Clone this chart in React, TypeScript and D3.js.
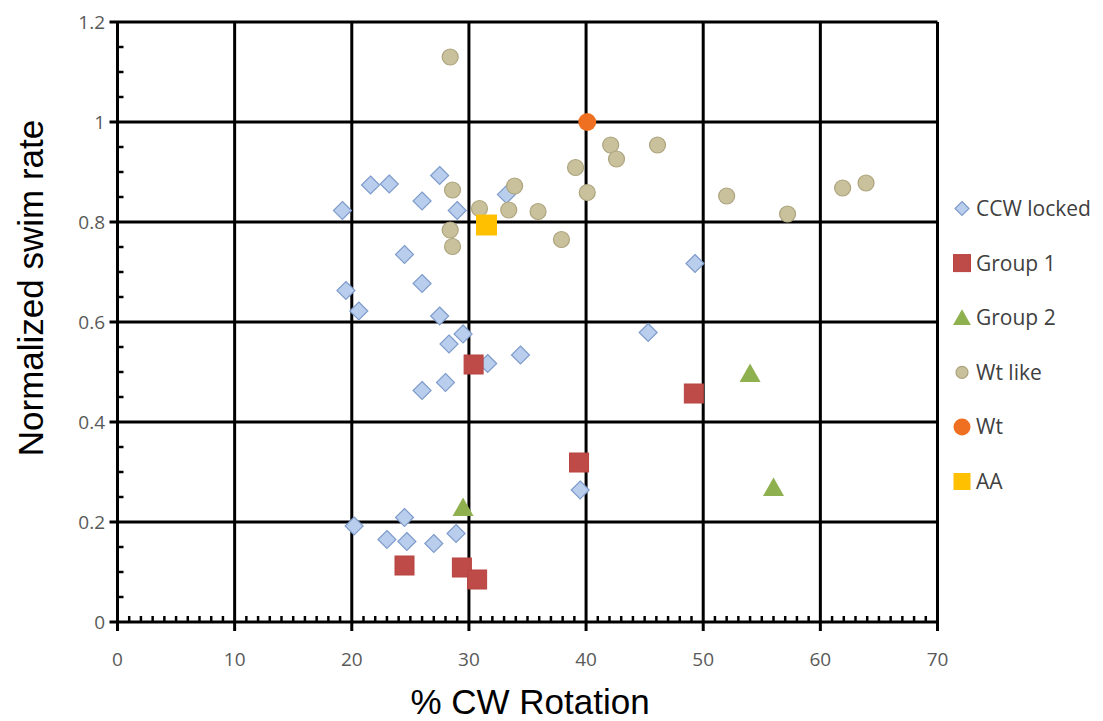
import React from "react";
import * as d3 from "d3";

const xTicks = [0, 10, 20, 30, 40, 50, 60, 70];
const yTicks = [0, 0.2, 0.4, 0.6, 0.8, 1, 1.2];
const yTickLabels = ["0", "0.2", "0.4", "0.6", "0.8", "1", "1.2"];

const ccwLocked: [number, number][] = [
  [19.2, 0.823], [21.6, 0.874], [23.2, 0.876], [27.5, 0.893], [26.0, 0.842],
  [29.0, 0.823], [33.2, 0.855], [24.5, 0.735], [49.3, 0.717], [26.0, 0.677],
  [19.5, 0.663], [20.6, 0.622], [27.5, 0.612], [28.3, 0.556], [29.5, 0.576],
  [31.6, 0.517], [34.4, 0.534], [26.0, 0.463], [28.0, 0.479], [45.3, 0.579],
  [20.2, 0.192], [24.5, 0.209], [23.0, 0.165], [24.7, 0.161], [27.0, 0.157],
  [28.9, 0.177], [39.5, 0.264],
];
const group1: [number, number][] = [
  [30.4, 0.515], [39.4, 0.319], [49.2, 0.457], [24.5, 0.113], [29.4, 0.109], [30.7, 0.085],
];
const group2: [number, number][] = [
  [29.5, 0.229], [54.0, 0.497], [56.0, 0.269],
];
const wtLike: [number, number][] = [
  [28.4, 1.13], [28.6, 0.864], [30.9, 0.827], [33.9, 0.872], [33.4, 0.824],
  [35.9, 0.821], [39.1, 0.909], [40.1, 0.859], [42.1, 0.954], [42.6, 0.926],
  [46.1, 0.954], [28.4, 0.784], [28.6, 0.751], [37.9, 0.765], [52.0, 0.852],
  [61.9, 0.868], [63.9, 0.878], [57.2, 0.816],
];
const wt: [number, number][] = [[40.1, 1.0]];
const aa: [number, number][] = [[31.5, 0.794]];

const legendNames = ["CCW locked", "Group 1", "Group 2", "Wt like", "Wt", "AA"];

type Shape = "diamond" | "square" | "triangle" | "circle";

function Marker({ shape, cx, cy, size, fill, stroke }: { shape: Shape; cx: number; cy: number; size: number; fill: string; stroke?: string }) {
  const h = size / 2;
  if (shape === "diamond") {
    const p = `M${cx},${cy - h} L${cx + h},${cy} L${cx},${cy + h} L${cx - h},${cy} Z`;
    return <path d={p} fill={fill} stroke={stroke} strokeWidth={1.2} />;
  }
  if (shape === "square") {
    return <rect x={cx - h} y={cy - h} width={size} height={size} fill={fill} stroke={stroke || "none"} strokeWidth={1} />;
  }
  if (shape === "triangle") {
    const p = `M${cx},${cy - h} L${cx + h * 1.05},${cy + h * 0.85} L${cx - h * 1.05},${cy + h * 0.85} Z`;
    return <path d={p} fill={fill} stroke={stroke || "none"} />;
  }
  return <circle cx={cx} cy={cy} r={h} fill={fill} stroke={stroke || "none"} strokeWidth={1.2} />;
}

export default function App() {
  const W = 1103, H = 721;
  const x = d3.scaleLinear().domain([0, 70]).range([117.5, 937.5]);
  const y = d3.scaleLinear().domain([0, 1.2]).range([622, 22]);

  const xMinor = d3.range(1, 70).filter((v) => v % 10 !== 0);
  const yMinor = d3.range(1, 24).filter((v) => v % 4 !== 0).map((v) => v * 0.05);

  const series = [
    { name: legendNames[0], data: ccwLocked, shape: "diamond" as Shape, size: 18, fill: "#B9CDED", stroke: "#7F9CCB" },
    { name: legendNames[1], data: group1, shape: "square" as Shape, size: 19, fill: "#BE4B48", stroke: "#B84441" },
    { name: legendNames[2], data: group2, shape: "triangle" as Shape, size: 20, fill: "#8FB04F" },
    { name: legendNames[3], data: wtLike, shape: "circle" as Shape, size: 16, fill: "#C9C19C", stroke: "#ADA47E" },
    { name: legendNames[4], data: wt, shape: "circle" as Shape, size: 18, fill: "#F07022" },
    { name: legendNames[5], data: aa, shape: "square" as Shape, size: 21, fill: "#FFC000" },
  ];

  const legendSizes = [14, 17, 17, 12, 17, 17];
  const tickFont = "'Open Sans', 'Noto Sans', sans-serif";
  const titleFont = "'Liberation Sans', Arial, sans-serif";

  return (
    <div style={{ position: "fixed", left: 0, top: 0, width: W, height: H, background: "#fff" }}>
      <svg width={W} height={H} style={{ display: "block" }}>
        <rect width={W} height={H} fill="#fff" />
        {/* grid */}
        {xTicks.map((t) => (
          <line key={"gx" + t} x1={x(t)} x2={x(t)} y1={y(1.2)} y2={y(0) + 9} stroke="#000" strokeWidth={3} />
        ))}
        {yTicks.map((t) => (
          <line key={"gy" + t} x1={x(0) - 8} x2={x(70)} y1={y(t)} y2={y(t)} stroke="#000" strokeWidth={3} />
        ))}
        {/* minor ticks */}
        {xMinor.map((t) => (
          <line key={"mx" + t} x1={x(t)} x2={x(t)} y1={y(0)} y2={y(0) - 6} stroke="#000" strokeWidth={2.5} />
        ))}
        {yMinor.map((t) => (
          <line key={"my" + t} x1={x(0)} x2={x(0) + 6} y1={y(t)} y2={y(t)} stroke="#000" strokeWidth={2.5} />
        ))}
        {/* tick labels */}
        {xTicks.map((t) => (
          <text key={"lx" + t} x={x(t)} y={666} textAnchor="middle" fontFamily={tickFont} fontSize={19} fill="#595959">
            {t}
          </text>
        ))}
        {yTicks.map((t, i) => (
          <text key={"ly" + t} x={105} y={y(t) + 7} textAnchor="end" fontFamily={tickFont} fontSize={19} fill="#595959">
            {yTickLabels[i]}
          </text>
        ))}
        {/* axis titles */}
        <text x={530} y={714} textAnchor="middle" fontFamily={titleFont} fontSize={35} fill="#000">
          % CW Rotation
        </text>
        <text
          transform={`translate(43,${288}) rotate(-90)`}
          textAnchor="middle"
          fontFamily={titleFont}
          fontSize={35}
          fill="#000"
        >
          Normalized swim rate
        </text>
        {/* points */}
        {series.map((s) =>
          s.data.map((d, i) => (
            <Marker key={s.name + i} shape={s.shape} cx={x(d[0])} cy={y(d[1])} size={s.size} fill={s.fill} stroke={s.stroke} />
          ))
        )}
        {/* legend */}
        {series.map((s, i) => {
          const cy = 208.5 + i * 54.6;
          return (
            <g key={"lg" + i}>
              <Marker shape={s.shape} cx={962} cy={cy} size={legendSizes[i]} fill={s.fill} stroke={s.stroke} />
              <text x={976} y={cy + 7.5} fontFamily={tickFont} fontSize={21} fill="#404040">
                {s.name}
              </text>
            </g>
          );
        })}
      </svg>
    </div>
  );
}
